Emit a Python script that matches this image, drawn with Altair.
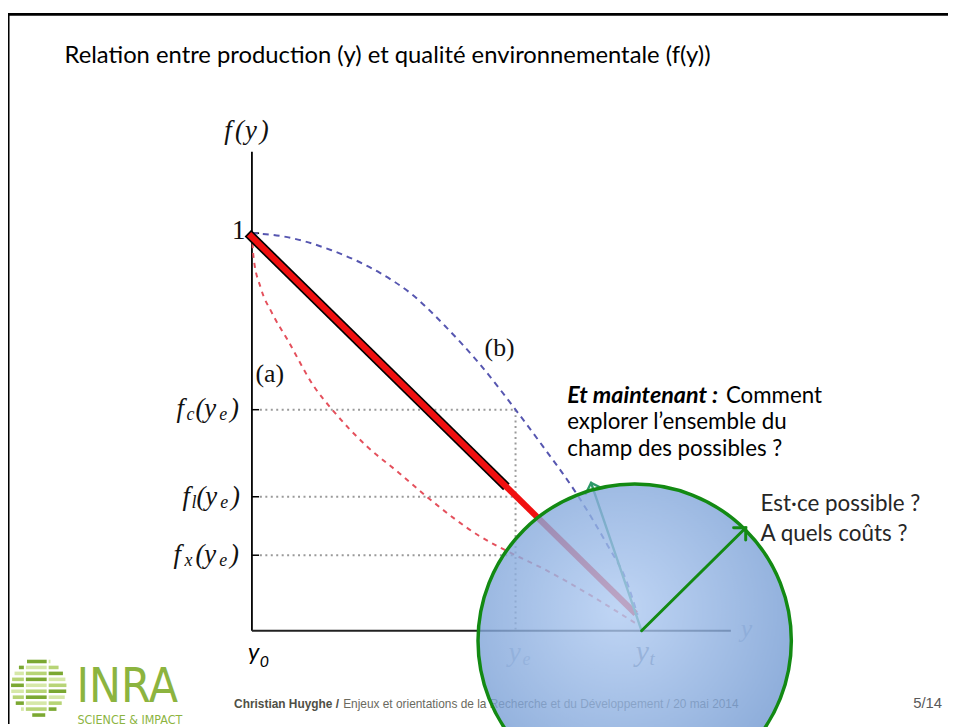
import math
import altair as alt
import pandas as pd

# ---------------- diagram values (x = production y, vertical = f(y)) ----------------
Y_E = 0.663          # y_e
Y_T = 0.98           # y_t
F_C = 0.556          # f_c(y_e)
F_L = 0.337          # f_l(y_e)
F_X = 0.19           # f_x(y_e)
AXIS_LEN = 1.2045    # length of both drawn axes

curve_a_x = [0.0, 0.004, 0.022, 0.05, 0.09, 0.157, 0.202, 0.289, 0.37, 0.446, 0.571, 0.663, 0.731, 0.85, 0.963]
curve_a_f = [1.0, 0.94, 0.863, 0.8, 0.731, 0.613, 0.556, 0.464, 0.397, 0.332, 0.239, 0.19, 0.157, 0.09, 0.02]

curve_b_x = [0.0, 0.072, 0.2, 0.322, 0.4, 0.489, 0.571, 0.663, 0.731, 0.813, 0.895, 0.94, 0.97]
curve_b_f = [1.0, 0.993, 0.957, 0.9, 0.848, 0.763, 0.673, 0.556, 0.465, 0.35, 0.214, 0.13, 0.04]

line_x = [-0.01, 0.968]
line_f = [1.0, 0.04]
outline_end_x = 0.64     # where the black outline of the thick line stops

tick_levels = [1.0, F_C, F_L, F_X]
guide_levels = [F_C, F_L, F_X]

arrow_main_tip = (1.242, 0.259)
arrow_hidden_tip = (0.853, 0.372)

lens_center = (0.9626, -0.025)

# ---------------- layout ----------------
W, H = 948, 719
UNIT = 401.0
OX, OY = 246.0, 625.0
X_DOM = [-OX / UNIT, (W - OX) / UNIT]
Y_DOM = [(OY - H) / UNIT, OY / UNIT]
xs = alt.Scale(domain=X_DOM, nice=False, zero=False)
ys = alt.Scale(domain=Y_DOM, nice=False, zero=False)

GREEN = "#138a13"
dummy = pd.DataFrame({"d": [0]})


def ex(field="x"):
    return alt.X(f"{field}:Q", scale=xs, axis=None)


def ey(field="f"):
    return alt.Y(f"{field}:Q", scale=ys, axis=None)


def txt(x, y, s, **kw):
    opts = dict(align="left", baseline="alphabetic")
    opts.update(kw)
    return alt.Chart(dummy).mark_text(text=s, **opts).encode(x=alt.value(x), y=alt.value(y))


layers = []

# slide frame
layers.append(alt.Chart(dummy).mark_rule(color="black", strokeWidth=2.7).encode(
    x=alt.value(0), x2=alt.value(W), y=alt.value(3.3)))
layers.append(alt.Chart(dummy).mark_rule(color="black", strokeWidth=2.5).encode(
    x=alt.value(0.3), y=alt.value(2), y2=alt.value(H)))

# axes
layers.append(alt.Chart(pd.DataFrame({"x": [0.0], "f": [0.0], "f2": [AXIS_LEN]})).mark_rule(
    color="black", strokeWidth=1.8).encode(x=ex(), y=ey(), y2="f2:Q"))
layers.append(alt.Chart(pd.DataFrame({"x": [0.0], "x2": [AXIS_LEN], "f": [0.0]})).mark_rule(
    color="#222222", strokeWidth=1.8).encode(x=ex(), x2="x2:Q", y=ey()))
# ticks
layers.append(alt.Chart(pd.DataFrame({"f": tick_levels, "x": [0.0] * 4, "x2": [0.018] * 4})).mark_rule(
    color="black", strokeWidth=1.5).encode(x=ex(), x2="x2:Q", y=ey()))

# dotted guides
layers.append(alt.Chart(pd.DataFrame({"f": guide_levels, "x": [0.02] * 3, "x2": [Y_E] * 3})).mark_rule(
    color="#9a9a9a", strokeWidth=2, strokeDash=[2, 3.5]).encode(x=ex(), x2="x2:Q", y=ey()))
layers.append(alt.Chart(pd.DataFrame({"x": [Y_E], "f": [F_C], "f2": [0.0]})).mark_rule(
    color="#9a9a9a", strokeWidth=2, strokeDash=[2, 3.5]).encode(x=ex(), y=ey(), y2="f2:Q"))

# curves
layers.append(alt.Chart(pd.DataFrame({"x": curve_b_x, "f": curve_b_f})).mark_line(
    color="#5656b0", strokeWidth=2, strokeDash=[6, 5], interpolate="monotone").encode(x=ex(), y=ey()))
layers.append(alt.Chart(pd.DataFrame({"x": curve_a_x, "f": curve_a_f})).mark_line(
    color="#e4505c", strokeWidth=2, strokeDash=[5, 5], interpolate="monotone").encode(x=ex(), y=ey()))

# thick red line with black outline
dxl, dyl = line_x[1] - line_x[0], line_f[1] - line_f[0]
nrm = math.hypot(dxl, dyl)
ux, uy = dxl / nrm, dyl / nrm
sh = 1.6 / UNIT
slope = dyl / dxl
layers.append(alt.Chart(pd.DataFrame({"x": [line_x[0], outline_end_x],
                                      "f": [line_f[0], line_f[0] + slope * (outline_end_x - line_x[0])]})).mark_line(
    color="black", strokeWidth=9.5, strokeCap="butt").encode(x=ex(), y=ey()))
layers.append(alt.Chart(pd.DataFrame({"x": [line_x[0] + ux * sh, line_x[1] - ux * sh],
                                      "f": [line_f[0] + uy * sh, line_f[1] - uy * sh]})).mark_line(
    color="#f01010", strokeWidth=6.2, strokeCap="butt").encode(x=ex(), y=ey()))

# math labels (serif italic pieces), positions relative to axis anchors (px offsets)
pieces = []


def add(ax, af, items):
    for t, dx, dy, s in items:
        pieces.append({"x": ax + dx / UNIT, "f": af - dy / UNIT, "t": t, "s": s})


add(0.0, AXIS_LEN, [("f", -28, -13, 27), ("(", -17, -13, 27), ("y", -7, -13, 27), (")", 8, -13, 27)])
add(0.0, F_C, [("f", -76, 7, 27), ("c", -66, 10, 18), ("(", -57, 7, 27), ("y", -48, 7, 27),
               ("e", -33, 10, 18), (")", -22, 7, 27)])
add(0.0, F_L, [("f", -70, 8, 27), ("l", -61, 11, 18), ("(", -56, 8, 27), ("y", -47, 8, 27),
               ("e", -32, 11, 18), (")", -21, 8, 27)])
add(0.0, F_X, [("f", -79, 8, 27), ("x", -68, 11, 18), ("(", -57, 8, 27), ("y", -48, 8, 27),
               ("e", -33, 11, 18), (")", -22, 8, 27)])
layers.append(alt.Chart(pd.DataFrame(pieces)).mark_text(
    font="Liberation Serif", fontStyle="italic", align="left", baseline="alphabetic", color="#111111").encode(
    x=ex(), y=ey(), text="t:N", size=alt.Size("s:Q", scale=None)))

# upright serif labels
up = pd.DataFrame({"x": [0.0 - 20 / UNIT, 0.045, 0.623], "f": [1.0 - 6 / UNIT, 0.626, 0.691],
                   "t": ["1", "(a)", "(b)"]})
layers.append(alt.Chart(up.iloc[:1]).mark_text(font="Liberation Serif", fontSize=27, align="left",
                                                baseline="alphabetic", color="#111111").encode(
    x=ex(), y=ey(), text="t:N"))
layers.append(alt.Chart(up.iloc[1:]).mark_text(font="Liberation Serif", fontSize=26, align="center",
                                                baseline="alphabetic", color="#111111").encode(
    x=ex(), y=ey(), text="t:N"))

# y0 label (sans italic)
y0 = pd.DataFrame({"x": [-4 / UNIT, 8 / UNIT], "f": [-29 / UNIT, -37 / UNIT], "t": ["y", "0"], "s": [24, 16]})
layers.append(alt.Chart(y0).mark_text(font="Lato", fontStyle="italic", align="left",
                                      baseline="alphabetic", color="black").encode(
    x=ex(), y=ey(), text="t:N", size=alt.Size("s:Q", scale=None)))

# x-axis labels that lie under the lens
under = []
for ax, items, col in [(Y_E, [("y", -7, 31, 28), ("e", 7, 35, 18)], "#b9c3d2"),
                       (Y_T, [("y", -6, 31, 30), ("t", 8, 35, 19)], "#7a879c"),
                       (AXIS_LEN, [("y", 10, 6, 26)], "#b9c3d2")]:
    for t, dx, dy, s in items:
        under.append({"x": ax + dx / UNIT, "f": -dy / UNIT, "t": t, "s": s, "c": col})
layers.append(alt.Chart(pd.DataFrame(under)).mark_text(
    font="Liberation Serif", fontStyle="italic", align="left", baseline="alphabetic").encode(
    x=ex(), y=ey(), text="t:N", size=alt.Size("s:Q", scale=None), color=alt.Color("c:N", scale=None)))


def arrow(tip, width, color):
    df = pd.DataFrame({"x": [Y_T, tip[0]], "f": [0.0, tip[1]]})
    ang = math.degrees(math.atan2(tip[0] - Y_T, tip[1])) % 360
    ln = alt.Chart(df).mark_line(color=color, strokeWidth=width, strokeCap="round").encode(x=ex(), y=ey())
    hd = alt.Chart(df.iloc[1:]).mark_point(shape="M-1,1L0,0L1,1", size=300, filled=False, opacity=1,
                                           stroke=color, strokeWidth=width, angle=ang,
                                           strokeCap="round", strokeJoin="miter").encode(x=ex(), y=ey())
    return [ln, hd]


layers += arrow(arrow_hidden_tip, 2.4, "#2e9a6a")

# footer (partly under lens)
layers.append(txt(228, 703, "Christian Huyghe /", font="Liberation Sans", fontSize=12, fontWeight="bold",
                  color="#4f4f45"))
layers.append(txt(338, 703, "Enjeux et orientations de la Recherche et du Développement / 20 mai 2014",
                  font="Liberation Sans", fontSize=12, color="#6a6a60"))
layers.append(txt(942, 703, "5/14", font="Liberation Sans", fontSize=15, color="#595959", align="right"))

# lens
grad = alt.RadialGradient(gradient="radial", x1=0.45, y1=0.4, r1=0.0, x2=0.45, y2=0.4, r2=0.62,
                          stops=[alt.GradientStop(offset=0, color="#b0cbf2"),
                                 alt.GradientStop(offset=1, color="#6f97d0")])
layers.append(alt.Chart(pd.DataFrame({"x": [lens_center[0]], "f": [lens_center[1]]})).mark_point(
    shape="circle", size=316 ** 2, filled=True, fill=grad, fillOpacity=0.8, opacity=1,
    stroke=GREEN, strokeWidth=3.5, strokeOpacity=1).encode(x=ex(), y=ey()))

layers += arrow(arrow_main_tip, 3, GREEN)

# slide texts
BODY = "Lato"
layers.append(txt(57, 52.5, "Relation entre production (y) et qualité environnementale (f(y))",
                  font=BODY, fontSize=24, color="black"))
layers.append(txt(564, 395, "Et maintenant :", font=BODY, fontSize=23.5, fontWeight="bold",
                  fontStyle="italic", color="black"))
layers.append(txt(724, 395, "Comment", font=BODY, fontSize=22.5, color="black"))
layers.append(txt(564, 422, "explorer l’ensemble du", font=BODY, fontSize=22.5, color="black"))
layers.append(txt(564, 449, "champ des possibles ?", font=BODY, fontSize=22.5, color="black"))
layers.append(txt(759, 504, "Est·ce possible ?", font=BODY, fontSize=22.6, color="#262626"))
layers.append(txt(759, 534, "A quels coûts ?", font=BODY, fontSize=22.6, color="#262626"))

# INRA logo
rows = []
cx, cy, R = 31.0, 682.0, 29.0
palette = ["#b7d476", "#7ba832", "#d6e8a8"]
for i in range(10):
    yy = 656 + i * 6.0
    hw = math.sqrt(max(R * R - (yy - cy) ** 2, 0))
    a, b = cx - hw, cx + hw
    cuts = [a, 17.0, 40.0, b]
    for j in range(3):
        s0, s1 = max(cuts[j], a), min(cuts[j + 1], b)
        if s1 - s0 > 2:
            rows.append({"x": s0 + 1, "x2": s1 - 1, "y": yy, "c": palette[(i + j) % 3]})
logo = pd.DataFrame(rows)
pxs = alt.Scale(domain=[0, W], range=[0, W], nice=False, zero=False)
pys = alt.Scale(domain=[0, H], range=[0, H], nice=False, zero=False)
layers.append(alt.Chart(logo).mark_rule(strokeWidth=3.6).encode(
    x=alt.X("x:Q", scale=pxs, axis=None), x2="x2:Q", y=alt.Y("y:Q", scale=pys, axis=None),
    color=alt.Color("c:N", scale=None)))
layers.append(txt(69, 697, "INRA", font="Liberation Sans Narrow, DejaVu Sans Condensed, sans-serif",
                  fontSize=48, color="#8cb43f"))
layers.append(txt(70, 719, "SCIENCE & IMPACT", font="Liberation Sans Narrow, DejaVu Sans Condensed, sans-serif",
                  fontSize=12.5, color="#8cb43f"))

chart = alt.layer(*layers).resolve_scale(x="independent", y="independent").properties(
    width=W, height=H, padding=0, autosize=alt.AutoSizeParams(type="none"), background="white"
).configure_view(stroke=None)

chart.save("out.html", embed_options={"renderer": "svg", "actions": False})
